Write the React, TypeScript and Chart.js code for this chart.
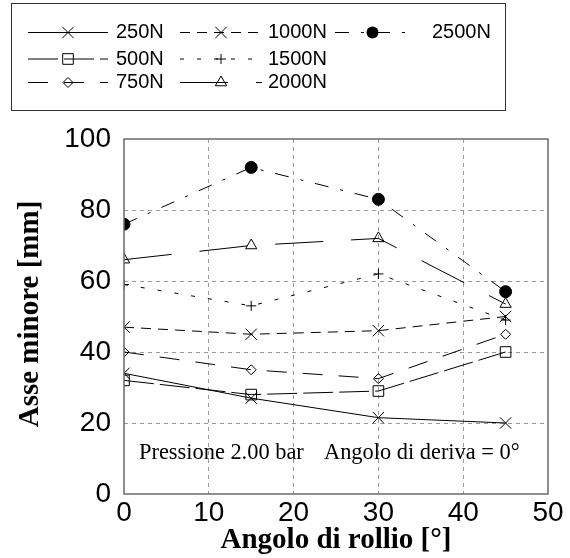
import React, { useEffect, useRef } from 'react';
import { Chart, registerables } from 'chart.js';
Chart.register(...registerables);

// ---- data ----
const rollAngles = [0, 15, 30, 45];
const seriesLabels = ['250N', '500N', '750N', '1000N', '1500N', '2000N', '2500N'];
const s250 = [34, 27, 21.5, 20];
const s500 = [32, 28, 29, 40];
const s750 = [40, 35, 32.5, 45];
const s1000 = [47, 45, 46, 50];
const s1500 = [59, 53, 62, 49];
const s2000 = [66, 70, 72, 53.5];
const s2500 = [76, 92, 83, 57];
const xTicks = [0, 10, 20, 30, 40, 50];
const yTicks = [0, 20, 40, 60, 80, 100];
const xTitle = 'Angolo di rollio [°]';
const yTitle = 'Asse minore [mm]';
const noteA = 'Pressione 2.00 bar';
const noteB = 'Angolo di deriva = 0°';

// ---- styles ----
const seriesValues = [s250, s500, s750, s1000, s1500, s2000, s2500];
const markerStyles = ['crossRot', 'rect', 'rectRot', 'crossRot', 'cross', 'triangle', 'circle'];
const markerRadii = [8, 7.5, 5, 8, 5, 6.5, 6];
const dashes: number[][] = [[], [30, 6], [20, 16], [10, 7], [4, 13], [48, 28], [14, 12, 3, 12]];
// legend: [column, row]
const legendPos = [[0, 0], [0, 1], [0, 2], [1, 0], [1, 1], [1, 2], [2, 0]];
const legendCols = [
  { x0: 28, x1: 108, tx: 116 },
  { x0: 180, x1: 262, tx: 268 },
  { x0: 335, x1: 410, tx: 432 },
];
const legendRows = [32.5, 59, 82.5];

const SANS = '"Liberation Sans", Arial, Helvetica, sans-serif';
const SERIF = '"Liberation Serif", "Times New Roman", Times, serif';

function drawMarker(ctx: CanvasRenderingContext2D, style: string, x: number, y: number, r: number) {
  ctx.save();
  ctx.setLineDash([]);
  ctx.strokeStyle = '#000';
  ctx.fillStyle = '#000';
  ctx.lineWidth = 1;
  ctx.beginPath();
  if (style === 'circle') {
    ctx.arc(x, y, r, 0, Math.PI * 2);
    ctx.fill();
  } else if (style === 'crossRot') {
    const o = r * Math.SQRT1_2;
    ctx.moveTo(x - o, y - o); ctx.lineTo(x + o, y + o);
    ctx.moveTo(x - o, y + o); ctx.lineTo(x + o, y - o);
    ctx.stroke();
  } else if (style === 'cross') {
    ctx.moveTo(x - r, y); ctx.lineTo(x + r, y);
    ctx.moveTo(x, y - r); ctx.lineTo(x, y + r);
    ctx.stroke();
  } else if (style === 'rect') {
    const s = r * Math.SQRT1_2;
    ctx.rect(x - s, y - s, 2 * s, 2 * s);
    ctx.stroke();
  } else if (style === 'rectRot') {
    ctx.moveTo(x - r, y); ctx.lineTo(x, y - r); ctx.lineTo(x + r, y); ctx.lineTo(x, y + r); ctx.closePath();
    ctx.stroke();
  } else if (style === 'triangle') {
    ctx.moveTo(x, y - r);
    ctx.lineTo(x + r * Math.sin(2 * Math.PI / 3), y - r * Math.cos(2 * Math.PI / 3));
    ctx.lineTo(x + r * Math.sin(4 * Math.PI / 3), y - r * Math.cos(4 * Math.PI / 3));
    ctx.closePath();
    ctx.stroke();
  }
  ctx.restore();
}

const decorPlugin = {
  id: 'decor',
  afterDraw(chart: any) {
    const ctx: CanvasRenderingContext2D = chart.ctx;
    const a = chart.chartArea;
    ctx.save();
    // plot frame
    ctx.strokeStyle = '#6a6a6a';
    ctx.lineWidth = 1.5;
    ctx.setLineDash([]);
    ctx.strokeRect(a.left, a.top, a.right - a.left, a.bottom - a.top);

    // legend box
    ctx.strokeStyle = '#333';
    ctx.lineWidth = 1;
    ctx.strokeRect(11.5, 3.5, 494, 107);
    ctx.font = `20px ${SANS}`;
    ctx.textBaseline = 'middle';
    ctx.textAlign = 'left';
    seriesLabels.forEach((lab, i) => {
      const col = legendCols[legendPos[i][0]];
      const y = legendRows[legendPos[i][1]];
      ctx.save();
      ctx.strokeStyle = '#000';
      ctx.lineWidth = 1;
      ctx.setLineDash(dashes[i]);
      ctx.beginPath();
      ctx.moveTo(col.x0, y);
      ctx.lineTo(col.x1, y);
      ctx.stroke();
      ctx.restore();
      drawMarker(ctx, markerStyles[i], (col.x0 + col.x1) / 2, y, markerRadii[i]);
      ctx.fillStyle = '#000';
      ctx.fillText(lab, col.tx, y);
    });

    // axis titles
    ctx.fillStyle = '#000';
    ctx.font = `bold 29px ${SERIF}`;
    ctx.textAlign = 'center';
    ctx.textBaseline = 'middle';
    ctx.fillText(xTitle, (a.left + a.right) / 2, 541);
    ctx.save();
    ctx.translate(31, 314);
    ctx.rotate(-Math.PI / 2);
    ctx.fillText(yTitle, 0, 0);
    ctx.restore();

    // annotation
    ctx.font = `22.4px ${SERIF}`;
    ctx.textAlign = 'left';
    ctx.textBaseline = 'alphabetic';
    ctx.fillText(noteA, 139, 459);
    ctx.fillText(noteB, 324, 459);
    ctx.restore();
  },
};

export default function App() {
  const ref = useRef<HTMLCanvasElement>(null);
  useEffect(() => {
    if (!ref.current) return;
    const datasets = seriesLabels.map((lab, i) => ({
      label: lab,
      data: rollAngles.map((x, j) => ({ x, y: seriesValues[i][j] })),
      borderColor: '#000',
      borderWidth: 1,
      borderDash: dashes[i],
      pointStyle: markerStyles[i] as any,
      pointRadius: markerRadii[i],
      pointHoverRadius: markerRadii[i],
      pointBorderColor: '#000',
      pointBorderWidth: 1,
      pointBackgroundColor: markerStyles[i] === 'circle' ? '#000' : 'rgba(0,0,0,0)',
      fill: false,
      tension: 0,
    }));
    const chart = new Chart(ref.current, {
      type: 'line',
      data: { datasets },
      options: {
        responsive: false,
        animation: false,
        devicePixelRatio: 1,
        layout: { padding: { top: 139, right: 22, left: 0, bottom: 0 } },
        plugins: { legend: { display: false }, tooltip: { enabled: false }, title: { display: false } },
        scales: {
          x: {
            type: 'linear',
            min: xTicks[0],
            max: xTicks[xTicks.length - 1],
            afterBuildTicks: (s: any) => { s.ticks = xTicks.map((v) => ({ value: v })); },
            afterFit: (s: any) => { s.height = 64; },
            ticks: { font: { family: SANS, size: 28 }, color: '#000', padding: 2, maxRotation: 0 },
            grid: {
              drawTicks: false,
              color: (c: any) => (c.tick && (c.tick.value === 0 || c.tick.value === 50) ? 'rgba(0,0,0,0)' : '#9a9a9a'),
              lineWidth: 1,
            },
            border: { display: false, dash: [4, 4] },
          },
          y: {
            type: 'linear',
            min: yTicks[0],
            max: yTicks[yTicks.length - 1],
            afterBuildTicks: (s: any) => { s.ticks = yTicks.map((v) => ({ value: v })); },
            afterFit: (s: any) => { s.width = 124; },
            ticks: { font: { family: SANS, size: 28 }, color: '#000', padding: 13 },
            grid: {
              drawTicks: false,
              color: (c: any) => (c.tick && (c.tick.value === 0 || c.tick.value === 100) ? 'rgba(0,0,0,0)' : '#9a9a9a'),
              lineWidth: 1,
            },
            border: { display: false, dash: [4, 4] },
          },
        },
      },
      plugins: [decorPlugin],
    });
    return () => chart.destroy();
  }, []);
  return (
    <div style={{ position: 'absolute', left: 0, top: 0, width: 570, height: 558, background: '#fff' }}>
      <canvas ref={ref} width={570} height={558} style={{ display: 'block', width: 570, height: 558 }} />
    </div>
  );
}
